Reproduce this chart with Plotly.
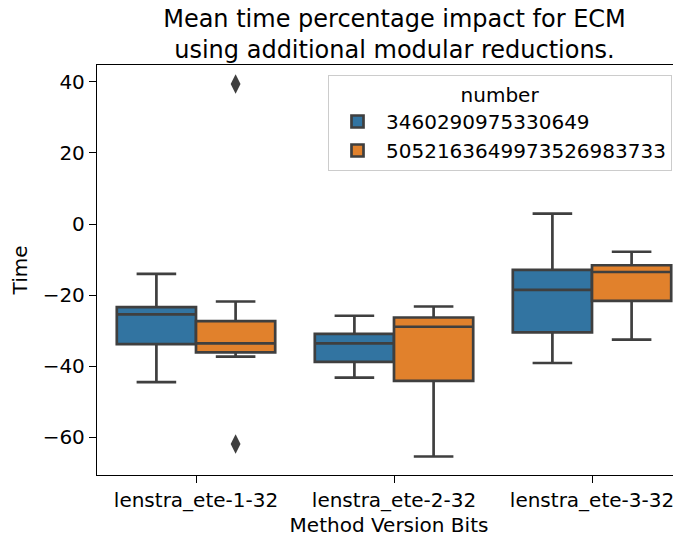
import plotly.graph_objects as go

categories = ["lenstra_ete-1-32", "lenstra_ete-2-32", "lenstra_ete-3-32"]
series_names = ["3460290975330649", "5052163649973526983733"]

# precomputed box statistics per series (one value per category)
q1 = [[-33.8, -38.8, -30.5], [-36.1, -44.1, -21.6]]
median = [[-25.4, -33.6, -18.5], [-33.6, -28.9, -13.5]]
q3 = [[-23.4, -30.9, -12.9], [-27.3, -26.3, -11.6]]
lowerfence = [[-44.5, -43.2, -39.1], [-37.3, -65.4, -32.5]]
upperfence = [[-14.0, -25.8, 2.9], [-21.8, -23.2, -7.8]]

# outliers: (series index, category index, value)
outlier_series = [1, 1]
outlier_category = [0, 0]
outlier_values = [39.4, -61.9]

colors = ["#3274a1", "#e1812c"]
edge = "#3f3f3f"
font = "DejaVu Sans"
box_w = 0.4
offsets = [-box_w / 2, box_w / 2]

# the page body has an 8px default margin; size the figure to fit the window
PAGE = 8
W, H = 681 - PAGE, 539 - PAGE
L, T, B = 97 - PAGE, 65 - PAGE, H - (475 - PAGE)
PW, PH = W - L, H - T - B

label_font = dict(family=font, size=20, color="black")

fig = go.Figure()
for s in range(2):
    xs = [i + offsets[s] for i in range(len(categories))]
    fig.add_trace(go.Box(
        name=series_names[s],
        x=xs, q1=q1[s], median=median[s], q3=q3[s],
        lowerfence=lowerfence[s], upperfence=upperfence[s],
        width=box_w, whiskerwidth=0.5, boxpoints=False,
        fillcolor=colors[s], line=dict(color=edge, width=2.7),
        hoverinfo="y",
    ))

fig.add_trace(go.Scatter(
    x=[c + offsets[s] for s, c in zip(outlier_series, outlier_category)],
    y=outlier_values, mode="markers", showlegend=False,
    marker=dict(symbol="diamond-tall", size=14, color=edge),
))

fig.update_layout(
    width=W, height=H,
    margin=dict(l=L, r=0, t=T, b=B),
    plot_bgcolor="white", paper_bgcolor="white",
    font=dict(family=font, size=20, color="black"),
    title=dict(text="Mean time percentage impact for ECM<br>using additional modular reductions.",
               x=(394.5 - PAGE) / W, xanchor="center", y=1 - 19 / H, yanchor="middle",
               yref="container", font=dict(family=font, size=24, color="black")),
    boxmode="overlay",
    showlegend=True,
    legend=dict(
        title=dict(text="number", side="top center", font=dict(family=font, size=20, color="black")),
        x=(328 - 97) / PW, xanchor="left", y=1 - (75 - 65) / PH, yanchor="top",
        bordercolor="#cccccc", borderwidth=1, bgcolor="rgba(255,255,255,0.8)",
        font=dict(family=font, size=20, color="black"), tracegroupgap=0, itemwidth=47,
    ),
    xaxis=dict(
        range=[-0.5, -0.5 + PW / 198], tickvals=list(range(len(categories))), ticktext=categories,
        showline=True, linecolor="black", linewidth=1.3, mirror=True,
        ticks="outside", ticklen=7, tickwidth=1.3, tickcolor="black",
        tickfont=dict(family=font, size=20, color="black"),
        showgrid=False, zeroline=False, automargin=False,
        title=dict(text="Method Version Bits", standoff=6, font=label_font),
    ),
    yaxis=dict(
        range=[-70.6, 44.73], tickvals=[40, 20, 0, -20, -40, -60],
        showline=True, linecolor="black", linewidth=1.3, mirror=False,
        ticks="outside", ticklen=7, tickwidth=1.3, tickcolor="black",
        tickfont=dict(family=font, size=20, color="black"),
        showgrid=False, zeroline=False, automargin=False,
        title=dict(text="Time", standoff=10, font=label_font),
    ),
)

fig.write_html("out.html")
